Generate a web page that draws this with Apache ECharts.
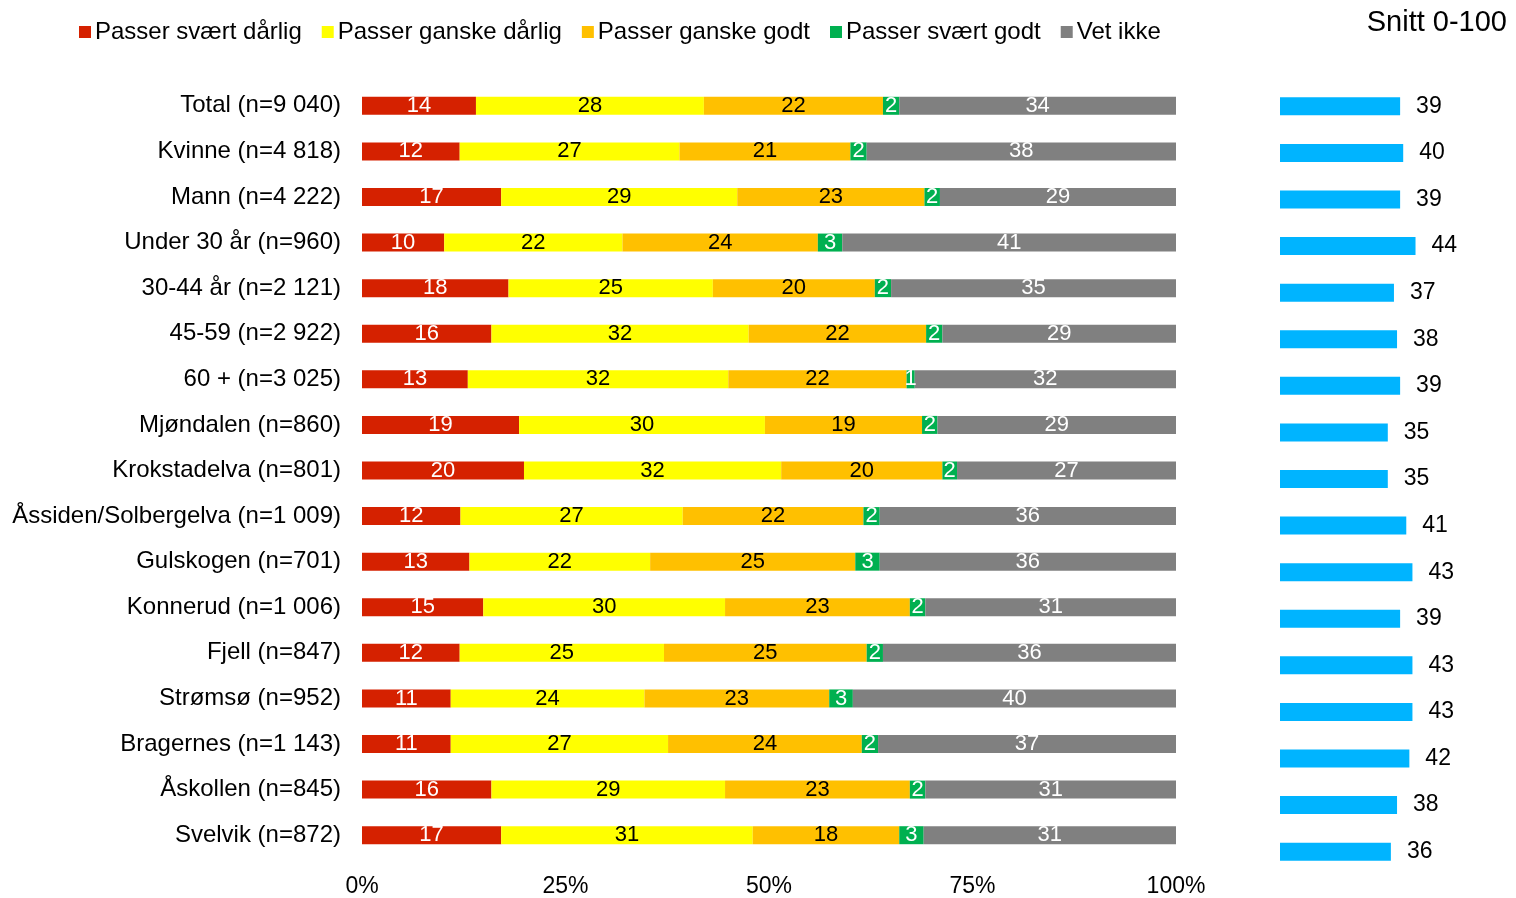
<!DOCTYPE html>
<html>
<head>
<meta charset="utf-8">
<script src="https://cdn.jsdelivr.net/npm/echarts@6/dist/echarts.min.js"></script>
<style>
html,body{margin:0;padding:0;background:#fff;}
#chart{width:1516px;height:898px;}
</style>
</head>
<body>
<div id="chart"></div>
<script>
const categories = [
  "Total (n=9 040)", "Kvinne (n=4 818)", "Mann (n=4 222)", "Under 30 år (n=960)",
  "30-44 år (n=2 121)", "45-59 (n=2 922)", "60 + (n=3 025)", "Mjøndalen (n=860)",
  "Krokstadelva (n=801)", "Åssiden/Solbergelva (n=1 009)", "Gulskogen (n=701)",
  "Konnerud (n=1 006)", "Fjell (n=847)", "Strømsø (n=952)", "Bragernes (n=1 143)",
  "Åskollen (n=845)", "Svelvik (n=872)"
];
const seriesNames = ["Passer svært dårlig", "Passer ganske dårlig", "Passer ganske godt", "Passer svært godt", "Vet ikke"];
const svaertDarlig  = [14.0, 12.0, 17.1, 10.1, 18.0, 15.9, 13.0, 19.3, 19.9, 12.1, 13.2, 14.9, 12.0, 10.9, 10.9, 15.9, 17.1];
const ganskeDarlig  = [28.0, 27.0, 29.0, 21.9, 25.1, 31.6, 32.0, 30.2, 31.6, 27.3, 22.2, 29.7, 25.1, 23.8, 26.7, 28.7, 30.9];
const ganskeGodt    = [22.0, 21.0, 23.0, 24.0, 19.9, 21.8, 21.9, 19.3, 19.8, 22.2, 25.2, 22.7, 24.9, 22.7, 23.8, 22.7, 18.0];
const svaertGodt    = [2.0, 2.0, 1.9, 3.0, 2.0, 2.0, 1.0, 1.9, 1.8, 2.0, 3.0, 1.9, 2.0, 2.9, 2.0, 1.9, 3.0];
const vetIkke       = [34.0, 38.0, 29.0, 41.0, 35.0, 28.7, 32.1, 29.3, 26.9, 36.4, 36.4, 30.8, 36.0, 39.7, 36.6, 30.8, 31.0];
const snitt         = [39, 40, 39, 44, 37, 38, 39, 35, 35, 41, 43, 39, 43, 43, 42, 38, 36];
const xTicks = ["0%", "25%", "50%", "75%", "100%"];

const colors = ["#D52100", "#FFFF00", "#FFC000", "#00B050", "#808080"];
const labelColors = ["#FFFFFF", "#000000", "#000000", "#FFFFFF", "#FFFFFF"];
const FONT = "'Liberation Sans', Arial, sans-serif";
const values = [svaertDarlig, ganskeDarlig, ganskeGodt, svaertGodt, vetIkke];

const stackSeries = seriesNames.map((name, i) => ({
  name: name,
  type: 'bar',
  stack: 'total',
  xAxisIndex: 0,
  yAxisIndex: 0,
  barWidth: 18,
  data: values[i],
  itemStyle: { color: colors[i] },
  label: {
    show: true,
    position: 'inside',
    color: labelColors[i],
    fontFamily: FONT,
    fontSize: 22,
    formatter: p => Math.round(p.value)
  },
  emphasis: { disabled: true }
}));

const chart = echarts.init(document.getElementById('chart'), null, { renderer: 'canvas' });
chart.setOption({
  animation: false,
  backgroundColor: '#ffffff',
  textStyle: { fontFamily: FONT },
  title: {
    text: 'Snitt 0-100',
    right: 4,
    top: 3,
    textStyle: { fontFamily: FONT, fontSize: 29, fontWeight: 'normal', color: '#000' }
  },
  legend: {
    data: seriesNames,
    left: 74,
    top: 15,
    itemWidth: 12,
    itemHeight: 12,
    itemGap: 20,
    icon: 'rect',
    textStyle: { fontFamily: FONT, fontSize: 24, color: '#000', padding: [0, 0, 0, -1] }
  },
  grid: [
    { left: 362, width: 814, top: 83, height: 776, containLabel: false },
    { left: 1280, width: 154, top: 83, height: 792, containLabel: false }
  ],
  xAxis: [
    {
      gridIndex: 0, type: 'value', min: 0, max: 100, interval: 25,
      axisLine: { show: false }, axisTick: { show: false }, splitLine: { show: false },
      axisLabel: {
        fontFamily: FONT, fontSize: 23, color: '#000', margin: 17,
        formatter: v => xTicks[Math.round(v / 25)]
      }
    },
    {
      gridIndex: 1, type: 'value', min: 0, max: 50,
      show: false
    }
  ],
  yAxis: [
    {
      gridIndex: 0, type: 'category', data: categories, inverse: true,
      axisLine: { show: false }, axisTick: { show: false },
      axisLabel: { fontFamily: FONT, fontSize: 24, color: '#000', margin: 21 }
    },
    {
      gridIndex: 1, type: 'category', data: categories, inverse: true,
      axisLine: { show: false }, axisTick: { show: false }, axisLabel: { show: false }
    }
  ],
  series: stackSeries.concat([{
    name: 'Snitt',
    type: 'bar',
    xAxisIndex: 1,
    yAxisIndex: 1,
    barWidth: 18,
    data: snitt,
    itemStyle: { color: '#00B4FF' },
    label: {
      show: true, position: 'right', distance: 16,
      fontFamily: FONT, fontSize: 23, color: '#000'
    },
    emphasis: { disabled: true }
  }])
});
</script>
</body>
</html>
